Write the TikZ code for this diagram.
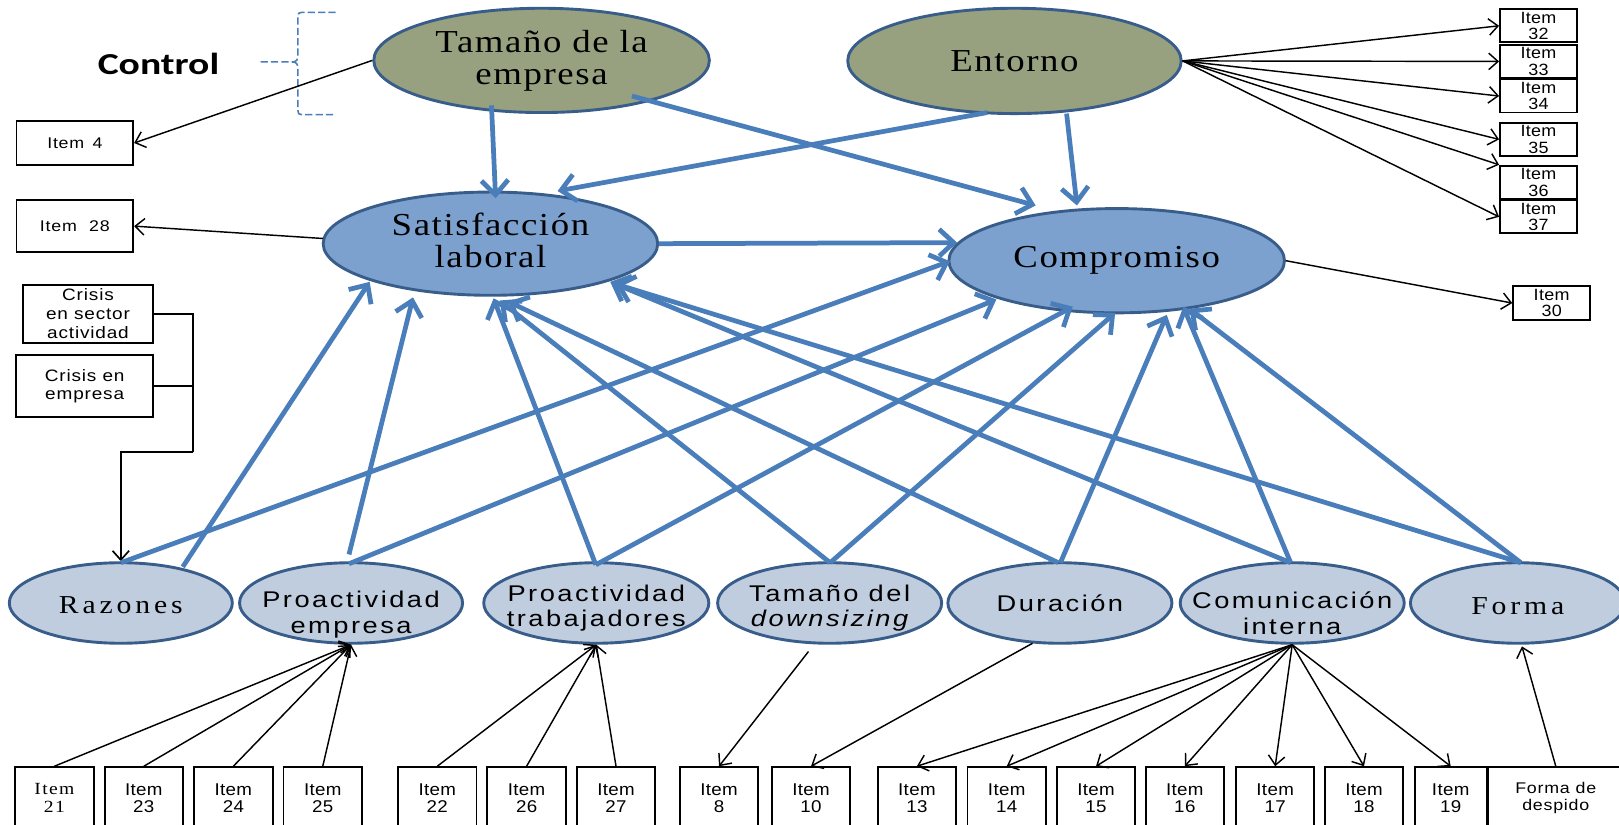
\documentclass[tikz,border=0pt]{standalone}
\usepackage{fontspec}
\setmainfont{Liberation Serif}
\newfontfamily\BigSerif[FakeStretch=1.15,LetterSpace=5]{Liberation Serif}
\newfontfamily\LowSerif[FakeStretch=1.15,LetterSpace=15]{Liberation Serif}
\newfontfamily\LowSans[FakeStretch=1.2,LetterSpace=11]{Liberation Sans}
\newfontfamily\ItemSans[FakeStretch=1.1,LetterSpace=2]{Liberation Sans}
\newfontfamily\ItemSerif[FakeStretch=1.15,LetterSpace=8]{Liberation Serif}
\newfontfamily\BoxSans[FakeStretch=1.15,LetterSpace=5]{Liberation Sans}
\newfontfamily\CtrlFont[FakeStretch=1.3]{Carlito}
\usetikzlibrary{shapes.geometric,arrows.meta,calc}
\definecolor{olivefill}{HTML}{98A17F}
\definecolor{midfill}{HTML}{7CA1CE}
\definecolor{lowfill}{HTML}{C0CDDE}
\definecolor{ellline}{HTML}{385D8A}
\definecolor{arrblue}{HTML}{4A7EBB}
\begin{document}
\begin{tikzpicture}[x=1pt,y=-1pt,
 ellbase/.style={ellipse, draw=ellline, line width=2.8pt, inner sep=0pt},
 topell/.style={ellbase, fill=olivefill},
 midell/.style={ellbase, fill=midfill},
 lowell/.style={ellbase, fill=lowfill, minimum height=78pt},
 bigtxt/.style={font=\BigSerif\fontsize{31}{31}\selectfont, align=center, inner sep=0pt},
 lowserif/.style={font=\LowSerif\fontsize{25}{25}\selectfont, inner sep=0pt},
 lowsans/.style={font=\LowSans\fontsize{22}{25}\selectfont, align=center, inner sep=0pt},
 itembox/.style={draw, fill=white, line width=1.8pt, inner sep=0pt, minimum width=76pt, minimum height=60pt, align=center, font=\ItemSans\fontsize{16.5}{17}\selectfont},
 ritem/.style={draw, fill=white, line width=1.8pt, inner sep=0pt, minimum width=74.5pt, minimum height=32pt, align=center, font=\ItemSans\fontsize{15.8}{16}\selectfont},
 lbox/.style={draw, fill=white, line width=1.8pt, inner sep=0pt, align=center, font=\BoxSans\fontsize{16}{18}\selectfont},
 bluearr/.style={draw=arrblue, line width=4.6pt, -{Straight Barb[length=14pt,width=26pt]}},
 blackarr/.style={draw=black, line width=1.4pt, -{Straight Barb[length=9pt,width=16pt]}},
 blackline/.style={draw=black, line width=1.6pt},
 bracestyle/.style={draw=arrblue, line width=1.5pt, dash pattern=on 7pt off 3pt},
]
\useasboundingbox (0,0) rectangle (1568,799);
\clip (0,0) rectangle (1568,799);

% ---- ellipses
\node[topell, minimum width=325pt, minimum height=101pt] (tam) at (524.5,58.5) {};
\node[topell, minimum width=323pt, minimum height=102pt] (ent) at (982.5,59) {};
\node[midell, minimum width=324pt, minimum height=100pt] (sat) at (475,236) {};
\node[midell, minimum width=325pt, minimum height=101pt] (comp) at (1081.5,252.5) {};
\node[lowell, minimum width=216pt] (raz) at (117,584) {};
\node[lowell, minimum width=216pt] (pe) at (340,584) {};
\node[lowell, minimum width=218pt] (pt) at (577.5,584) {};
\node[lowell, minimum width=217pt] (ds) at (803.5,584) {};
\node[lowell, minimum width=217pt] (du) at (1026.5,584) {};
\node[lowell, minimum width=217pt] (cm) at (1251.5,584) {};
\node[lowell, minimum width=208pt] (fm) at (1470,584) {};

% ---- ellipse texts
\node[bigtxt] (tamt) at (tam.center) {Tamaño de la\\empresa};
\node[bigtxt] (entt) at (ent.center) {Entorno};
\node[bigtxt] (satt) at ($(sat.center)+(0,-3)$) {Satisfacción\\laboral};
\node[bigtxt] (compt) at (comp.center) {Compromiso};
\node[lowserif] (razt) at ($(raz.center)+(0,2)$) {Razones};
\node[lowsans] (pet) at ($(pe.center)+(0,11)$) {Proactividad\\empresa};
\node[lowsans] (ptt) at ($(pt.center)+(0,5)$) {Proactividad\\trabajadores};
\node[lowsans] (dst) at ($(ds.center)+(0,5)$) {Tamaño del\\\itshape downsizing};
\node[lowsans] (dut) at (du.center) {Duración};
\node[lowsans] (cmt) at ($(cm.center)+(0,10)$) {Comunicación\\interna};
\node[lowserif] (fmt) at ($(fm.center)+(0,3)$) {Forma};

% ---- control label and brace
\node[font=\CtrlFont\bfseries\fontsize{29.5}{30}\selectfont, inner sep=0pt] (ctrl) at (153.5,61.5) {Control};
\draw[bracestyle] (325,12) -- (292,12) .. controls (289.5,12) and (288.5,13) .. (288.5,16) -- (288.5,54)
  .. controls (288.5,58) and (287,60) .. (283,60) -- (252,60);
\draw[bracestyle] (283,60) .. controls (287,60) and (288.5,62) .. (288.5,66) -- (288.5,107)
  .. controls (288.5,110) and (289.5,111) .. (292,111) -- (325,111);

% ---- left boxes
\node[lbox, minimum width=113pt, minimum height=43pt, font=\BoxSans\fontsize{15}{18}\selectfont] (i4) at (72.5,138.5) {Item\hspace{8pt}4};
\node[lbox, minimum width=113pt, minimum height=50pt, font=\BoxSans\fontsize{15}{18}\selectfont] (i28) at (72.5,219) {Item\hspace{12pt}28};
\node[lbox, minimum width=126.5pt, minimum height=56pt, font=\BoxSans\fontsize{16}{18.5}\selectfont] (c1) at (85.25,304) {Crisis\\en sector\\actividad};
\node[lbox, minimum width=133pt, minimum height=60pt] (c2) at (82,374) {Crisis en\\empresa};
\coordinate (jn) at (187.2,438);

% ---- right boxes
\node[ritem] (i32) at (1490,25) {Item\\32};
\node[ritem] (i33) at (1490,59.5) {Item\\33};
\node[ritem] (i34) at (1490,93) {Item\\34};
\node[ritem] (i35) at (1490,135) {Item\\35};
\node[ritem] (i36) at (1490,176.5) {Item\\36};
\node[ritem] (i37) at (1490,210) {Item\\37};
\node[ritem, minimum height=33pt] (i30) at (1502.75,293.5) {Item\\30};

% ---- bottom boxes
\node[itembox, font=\ItemSerif\fontsize{16.5}{17}\selectfont] (i21) at (52.7,773) {Item\\21};
\node[itembox] (i23) at (139.3,773) {Item\\23};
\node[itembox] (i24) at (226,773) {Item\\24};
\node[itembox] (i25) at (312.6,773) {Item\\25};
\node[itembox] (i22) at (423.5,773) {Item\\22};
\node[itembox] (i26) at (510,773) {Item\\26};
\node[itembox] (i27) at (596.6,773) {Item\\27};
\node[itembox] (i8) at (696.4,773) {Item\\8};
\node[itembox] (i10) at (785.5,773) {Item\\10};
\node[itembox] (i13) at (888,773) {Item\\13};
\node[itembox] (i14) at (975,773) {Item\\14};
\node[itembox] (i15) at (1061.5,773) {Item\\15};
\node[itembox] (i16) at (1147.5,773) {Item\\16};
\node[itembox] (i17) at (1235,773) {Item\\17};
\node[itembox] (i18) at (1321,773) {Item\\18};
\node[itembox, minimum width=70pt] (i19) at (1405,773) {Item\\19};
\node[lbox, minimum width=130.5pt, minimum height=60pt, font=\BoxSans\fontsize{15}{16.5}\selectfont] (fd) at (1506.75,773) {Forma de\\despido};

% ---- black connectors
\draw[blackarr] (tam.west) -- (i4.east);
\draw[blackarr] ($(sat.center)+(-162,-5)$) -- (i28.east);
\draw[blackarr] (comp.east) -- (i30.west);
\foreach \t/\a in {i32/west, i33/west, i34/west, i35/west, i36/north west, i37/west}
  \draw[blackarr] (ent.east) -- (\t.\a);
\draw[blackline] (c1.east) -| (jn);
\draw[blackline] (c2.east) -- (c2.east -| jn);
\draw[blackarr, line width=1.6pt] (jn) -| (raz.north);
\foreach \b in {i21,i23,i24,i25} \draw[blackarr] (\b.north) -- (pe.south);
\foreach \b in {i22,i26,i27} \draw[blackarr] (\b.north) -- (pt.south);
\draw[blackarr] ($(ds.center)+(-20.5,47)$) -- (i8.north);
\draw[blackarr] ($(du.center)+(-26.5,39)$) -- (i10.north);
\foreach \b in {i13,i14,i15,i16,i17,i18,i19} \draw[blackarr] (cm.south) -- (\b.north);
\draw[blackarr] (fd.north) -- ($(fm.center)+(4,42)$);

% ---- blue structural arrows
\draw[bluearr] ($(tam.center)+(-48.5,43.5)$) -- ($(sat.center)+(5,-44)$);
\draw[bluearr] ($(tam.center)+(87.5,34.5)$) -- ($(comp.center)+(-78.5,-53.5)$);
\draw[bluearr] ($(ent.center)+(-26.5,50)$) -- ($(sat.center)+(65,-51)$);
\draw[bluearr] ($(ent.center)+(50.5,51)$) -- ($(comp.center)+(-38.5,-53.5)$);
\draw[bluearr] ($(sat.center)+(163,0)$) -- ($(comp.center)+(-154.5,-17.5)$);
\draw[bluearr] ($(raz.center)+(60,-35)$) -- ($(sat.center)+(-117,37)$);
\draw[bluearr] ($(pe.center)+(-2,-47)$) -- ($(sat.center)+(-75,52)$);
\draw[bluearr] ($(pt.center)+(-0.5,-37)$) -- ($(sat.center)+(3,53)$);
\draw[bluearr] ($(ds.center)+(0.5,-39)$) -- ($(sat.center)+(9,55)$);
\draw[bluearr] ($(du.center)+(-1.5,-39)$) -- ($(sat.center)+(17,56)$);
\draw[bluearr] ($(cm.center)+(-1.5,-39)$) -- ($(sat.center)+(116,37)$);
\draw[bluearr] ($(fm.center)+(3,-39)$) -- ($(sat.center)+(121,39)$);
\draw[bluearr] ($(raz.center)+(0,-39)$) -- ($(comp.center)+(-161.5,0.5)$);
\draw[bluearr] ($(pe.center)+(-2,-38)$) -- ($(comp.center)+(-116.5,37.5)$);
\draw[bluearr] ($(pt.center)+(-0.5,-37)$) -- ($(comp.center)+(-42.5,44.5)$);
\draw[bluearr] ($(ds.center)+(0.5,-39)$) -- ($(comp.center)+(-1.5,50.5)$);
\draw[bluearr] ($(du.center)+(0.5,-39)$) -- ($(comp.center)+(48.5,52.5)$);
\draw[bluearr] ($(cm.center)+(-1.5,-39)$) -- ($(comp.center)+(64.5,44.5)$);
\draw[bluearr] ($(fm.center)+(3,-39)$) -- ($(comp.center)+(70.5,46.5)$);
\end{tikzpicture}
\end{document}
